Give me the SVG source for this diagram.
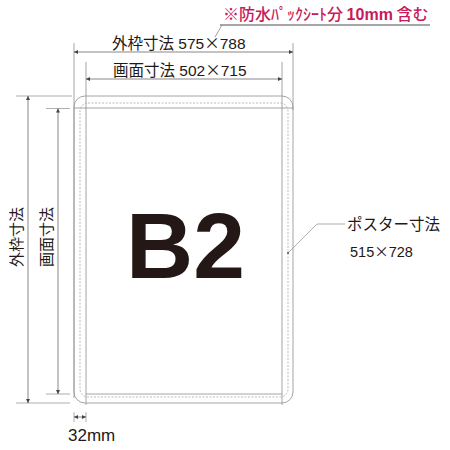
<svg xmlns="http://www.w3.org/2000/svg" width="450" height="450" viewBox="0 0 450 450">
<defs>
<marker id="ar" viewBox="0 0 6 6" refX="6" refY="3" markerWidth="4" markerHeight="4" orient="auto-start-reverse" markerUnits="userSpaceOnUse">
<path d="M0,0 L6,3 L0,6 z" fill="#444"/>
</marker>
</defs>
<style>
.fr{fill:none;stroke:#9a9a9a;stroke-width:0.9}
.ex{fill:none;stroke:#9a9a9a;stroke-width:0.8}
.dm{fill:none;stroke:#555;stroke-width:0.7}
.ds{fill:none;stroke:#aaa;stroke-width:0.8;stroke-dasharray:2,1.5}
.t{font-family:'Liberation Sans','Noto Sans CJK JP',sans-serif;fill:#231815}
.j{font-family:'Noto Sans CJK JP',sans-serif;fill:#231815}
</style>
<rect width="450" height="450" fill="#fff"/>
<g id="frame">
<rect class="fr" x="74" y="96" width="219" height="307" rx="11"/>
<line class="fr" x1="74" y1="108" x2="293" y2="108"/>
<line class="fr" x1="86" y1="394" x2="282" y2="394"/>
<line class="fr" x1="86" y1="62" x2="86" y2="405"/>
<line class="fr" x1="282" y1="62" x2="282" y2="405"/>
<line class="fr" x1="74" y1="43" x2="74" y2="398"/>
<line class="fr" x1="293" y1="43" x2="293" y2="110"/>
<rect class="ds" x="80" y="103" width="208" height="294" rx="8"/>
</g>
<g id="connectors">
<line class="dm" x1="74" y1="52" x2="293" y2="52" marker-start="url(#ar)" marker-end="url(#ar)"/>
<line class="dm" x1="86" y1="79" x2="282" y2="79" marker-start="url(#ar)" marker-end="url(#ar)"/>
<line class="ex" x1="16" y1="96" x2="72" y2="96"/>
<line class="ex" x1="16" y1="403" x2="70" y2="403"/>
<line class="ex" x1="46" y1="108.5" x2="70" y2="108.5"/>
<line class="ex" x1="46" y1="394" x2="70" y2="394"/>
<line class="dm" x1="28" y1="96" x2="28" y2="403" marker-start="url(#ar)" marker-end="url(#ar)"/>
<line class="dm" x1="58" y1="108.5" x2="58" y2="394" marker-start="url(#ar)" marker-end="url(#ar)"/>
<line class="ex" x1="74" y1="412" x2="74" y2="422"/>
<line class="ex" x1="86" y1="412" x2="86" y2="422"/>
<line class="dm" x1="74" y1="417" x2="86" y2="417" marker-start="url(#ar)" marker-end="url(#ar)"/>
<polyline class="ex" points="345,224 317,224 288,253"/>
<circle cx="288" cy="253" r="0.9" fill="#444"/>
<line x1="220" y1="25" x2="430" y2="25" stroke="#888" stroke-width="1.3"/>
<line x1="222" y1="25" x2="215" y2="37" stroke="#777" stroke-width="0.7"/>
</g>
<g id="note">
<text class="j" x="223" y="20" font-size="16" font-weight="500" style="fill:#c8195a">※防水ﾊﾟｯｸｼｰﾄ分 <tspan font-family="'Liberation Sans',sans-serif" font-weight="bold">10mm</tspan> 含む</text>
</g>
<g id="outer-label">
<text class="t" x="112" y="49" font-size="15.5">外枠寸法 575<tspan class="j">×</tspan>788</text>
</g>
<g id="screen-label">
<text class="t" x="113" y="76" font-size="15.5">画面寸法 502<tspan class="j">×</tspan>715</text>
</g>
<g id="outer-v-label">
<text class="j" transform="translate(22,237) rotate(-90)" text-anchor="middle" font-size="15">外枠寸法</text>
</g>
<g id="screen-v-label">
<text class="j" transform="translate(52,237) rotate(-90)" text-anchor="middle" font-size="15">画面寸法</text>
</g>
<g id="b2">
<text class="t" x="126" y="278" font-size="93" font-weight="bold">B2</text>
</g>
<g id="poster-label">
<text class="j" x="347" y="230" font-size="15.5">ポスター寸法</text>
<text class="t" x="350" y="257" font-size="14.5">515<tspan class="j">×</tspan>728</text>
</g>
<g id="margin-label">
<text class="t" x="68" y="441" font-size="17">32mm</text>
</g>
</svg>
